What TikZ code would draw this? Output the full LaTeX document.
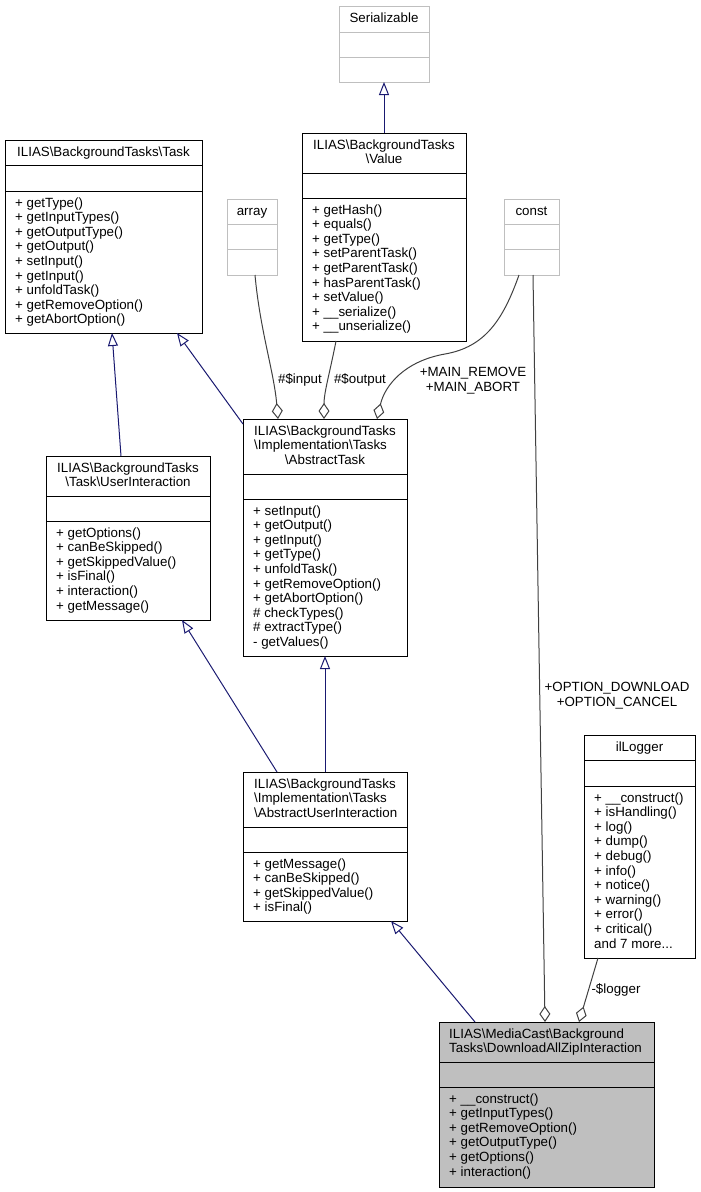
\documentclass[tikz,border=0pt]{standalone}
\usepackage{fontspec}
\setmainfont{Liberation Sans}
\usetikzlibrary{arrows.meta, positioning}
\definecolor{inhblue}{RGB}{25,25,112}
\definecolor{agggray}{RGB}{64,64,64}
\definecolor{boxgray}{RGB}{191,191,191}
\newcommand{\bsl}{\textbackslash}
\tikzset{
  cls/.style={draw=black, line width=1pt, inner sep=0pt, outer sep=0pt},
  ext/.style={draw=boxgray, line width=1pt, inner sep=0pt, outer sep=0pt},
  txt/.style={inner sep=0pt, align=left},
  inh/.style={draw=inhblue, line width=1pt, -{Triangle[open, length=13pt, width=10pt]}},
  agg/.style={draw=agggray, line width=1pt, -{Diamond[open, length=16pt, width=11pt]}},
}

\begin{document}
\begin{tikzpicture}[x=1pt, y=-1pt, font=\fontsize{13.33}{14.6}\selectfont]
\useasboundingbox (0,0) rectangle (701,1192);

% external types
\node[ext, minimum width=90pt, minimum height=76pt] (Ser) at (384,44) {};
\draw[boxgray, line width=1pt] ([yshift=-26pt]Ser.north west) -- ([yshift=-26pt]Ser.north east);
\draw[boxgray, line width=1pt] ([yshift=-51pt]Ser.north west) -- ([yshift=-51pt]Ser.north east);
\node[txt, anchor=base] (SerT) at (384,22) {Serializable};

\node[ext, minimum width=50pt, minimum height=76pt] (Arr) at (252,237) {};
\draw[boxgray, line width=1pt] ([yshift=-25pt]Arr.north west) -- ([yshift=-25pt]Arr.north east);
\draw[boxgray, line width=1pt] ([yshift=-50pt]Arr.north west) -- ([yshift=-50pt]Arr.north east);
\node[txt, anchor=base] (ArrT) at (252,215) {array};

\node[ext, minimum width=55pt, minimum height=76pt] (Con) at (531.5,237) {};
\draw[boxgray, line width=1pt] ([yshift=-25pt]Con.north west) -- ([yshift=-25pt]Con.north east);
\draw[boxgray, line width=1pt] ([yshift=-50pt]Con.north west) -- ([yshift=-50pt]Con.north east);
\node[txt, anchor=base] (ConT) at (531.5,215) {const};

% Task
\node[cls, minimum width=197pt, minimum height=193pt] (Tsk) at (103.5,236.5) {};
\draw[line width=1pt] ([yshift=-25pt]Tsk.north west) -- ([yshift=-25pt]Tsk.north east);
\draw[line width=1pt] ([yshift=-51pt]Tsk.north west) -- ([yshift=-51pt]Tsk.north east);
\node[txt, anchor=base] (TskT) at (103.5,156) {ILIAS\bsl BackgroundTasks\bsl Task};
\node[txt, anchor=north west] (TskM) at (15,197.3) {+ getType()\\+ getInputTypes()\\+ getOutputType()\\+ getOutput()\\+ setInput()\\+ getInput()\\+ unfoldTask()\\+ getRemoveOption()\\+ getAbortOption()};

% Value
\node[cls, minimum width=164pt, minimum height=208pt] (Val) at (384,237) {};
\draw[line width=1pt] ([yshift=-40pt]Val.north west) -- ([yshift=-40pt]Val.north east);
\draw[line width=1pt] ([yshift=-65pt]Val.north west) -- ([yshift=-65pt]Val.north east);
\node[txt, align=center, anchor=north] (ValT) at (384,139.3) {ILIAS\bsl BackgroundTasks\\\bsl Value};
\node[txt, anchor=north west] (ValM) at (312,204.3) {+ getHash()\\+ equals()\\+ getType()\\+ setParentTask()\\+ getParentTask()\\+ hasParentTask()\\+ setValue()\\+ \_\_serialize()\\+ \_\_unserialize()};

% AbstractTask
\node[cls, minimum width=164pt, minimum height=237pt] (ATsk) at (325,537.5) {};
\draw[line width=1pt] ([yshift=-55pt]ATsk.north west) -- ([yshift=-55pt]ATsk.north east);
\draw[line width=1pt] ([yshift=-80pt]ATsk.north west) -- ([yshift=-80pt]ATsk.north east);
\node[txt, anchor=north] (ATskT) at (325,425.3) {ILIAS\bsl BackgroundTasks\\\bsl Implementation\bsl Tasks};
\node[txt, anchor=base] (ATskT3) at (325,464.2) {\bsl AbstractTask};
\node[txt, anchor=north west] (ATskM) at (253,505.3) {+ setInput()\\+ getOutput()\\+ getInput()\\+ getType()\\+ unfoldTask()\\+ getRemoveOption()\\+ getAbortOption()\\\# checkTypes()\\\# extractType()\\- getValues()};

% UserInteraction
\node[cls, minimum width=164pt, minimum height=164pt] (UI) at (128,538) {};
\draw[line width=1pt] ([yshift=-40pt]UI.north west) -- ([yshift=-40pt]UI.north east);
\draw[line width=1pt] ([yshift=-65pt]UI.north west) -- ([yshift=-65pt]UI.north east);
\node[txt, align=center, anchor=north] (UIT) at (128,462.3) {ILIAS\bsl BackgroundTasks\\\bsl Task\bsl UserInteraction};
\node[txt, anchor=north west] (UIM) at (56,527.3) {+ getOptions()\\+ canBeSkipped()\\+ getSkippedValue()\\+ isFinal()\\+ interaction()\\+ getMessage()};

% AbstractUserInteraction
\node[cls, minimum width=164pt, minimum height=149pt] (AUI) at (325,846.5) {};
\draw[line width=1pt] ([yshift=-55pt]AUI.north west) -- ([yshift=-55pt]AUI.north east);
\draw[line width=1pt] ([yshift=-80pt]AUI.north west) -- ([yshift=-80pt]AUI.north east);
\node[txt, anchor=north west] (AUIT) at (254,778.3) {ILIAS\bsl BackgroundTasks\\\bsl Implementation\bsl Tasks\\\bsl AbstractUserInteraction};
\node[txt, anchor=north west] (AUIM) at (253,858.3) {+ getMessage()\\+ canBeSkipped()\\+ getSkippedValue()\\+ isFinal()};

% ilLogger
\node[cls, minimum width=111pt, minimum height=223pt] (Log) at (639.5,846.5) {};
\draw[line width=1pt] ([yshift=-25pt]Log.north west) -- ([yshift=-25pt]Log.north east);
\draw[line width=1pt] ([yshift=-51pt]Log.north west) -- ([yshift=-51pt]Log.north east);
\node[txt, anchor=base] (LogT) at (639.5,751) {ilLogger};
\node[txt, anchor=north west] (LogM) at (594,792.3) {+ \_\_construct()\\+ isHandling()\\+ log()\\+ dump()\\+ debug()\\+ info()\\+ notice()\\+ warning()\\+ error()\\+ critical()\\and 7 more...};

% DownloadAllZipInteraction
\node[cls, fill=boxgray, minimum width=215pt, minimum height=165pt] (DL) at (546.5,1104.5) {};
\draw[line width=1pt] ([yshift=-40pt]DL.north west) -- ([yshift=-40pt]DL.north east);
\draw[line width=1pt] ([yshift=-65pt]DL.north west) -- ([yshift=-65pt]DL.north east);
\node[txt, anchor=north west] (DLT) at (449,1028.3) {ILIAS\bsl MediaCast\bsl Background\\Tasks\bsl DownloadAllZipInteraction};
\node[txt, anchor=north west] (DLM) at (449,1093.3) {+ \_\_construct()\\+ getInputTypes()\\+ getRemoveOption()\\+ getOutputType()\\+ getOptions()\\+ interaction()};

% inheritance
\draw[inh] (Val.north) -- (Ser.south);
\draw[inh] ([xshift=-7pt]UI.north) -- ([xshift=8.5pt]Tsk.south);
\draw[inh] ([yshift=-5pt]ATsk.north west) -- ([xshift=73.5pt]Tsk.south);
\draw[inh] ([xshift=-48pt]AUI.north) -- ([xshift=54pt]UI.south);
\draw[inh] (AUI.north) -- (ATsk.south);
\draw[inh] ([xshift=-71.5pt]DL.north) -- ([xshift=66pt]AUI.south);

% aggregation
\draw[agg] ([xshift=3pt]Arr.south) .. controls (260,330) and (274,372) .. ([xshift=-47pt]ATsk.north);
\draw[agg] ([xshift=-48pt]Val.south) .. controls (330,372) and (324,392) .. ([xshift=-1pt]ATsk.north);
\draw[agg] ([xshift=-12.5pt]Con.south) .. controls (503,320) and (485,347) .. (445,354) .. controls (405,361) and (385,385) .. ([xshift=52pt]ATsk.north);
\draw[agg] ([xshift=1.5pt]Con.south) -- ([xshift=-1.5pt]DL.north);
\draw[agg] ([xshift=-41.5pt]Log.south) -- ([xshift=32.5pt]DL.north);

\node[txt, anchor=base] (Lin) at (300,383) {\#\$input};
\node[txt, anchor=base] (Lout) at (360,383) {\#\$output};
\node[txt, align=center, anchor=north] (Lmain) at (473,367.3) {+MAIN\_REMOVE\\+MAIN\_ABORT};
\node[txt, align=center, anchor=north] (Lopt) at (617,682.3) {+OPTION\_DOWNLOAD\\+OPTION\_CANCEL};
\node[txt, anchor=base] (Llog) at (616,993) {-\$logger};
\end{tikzpicture}
\end{document}
